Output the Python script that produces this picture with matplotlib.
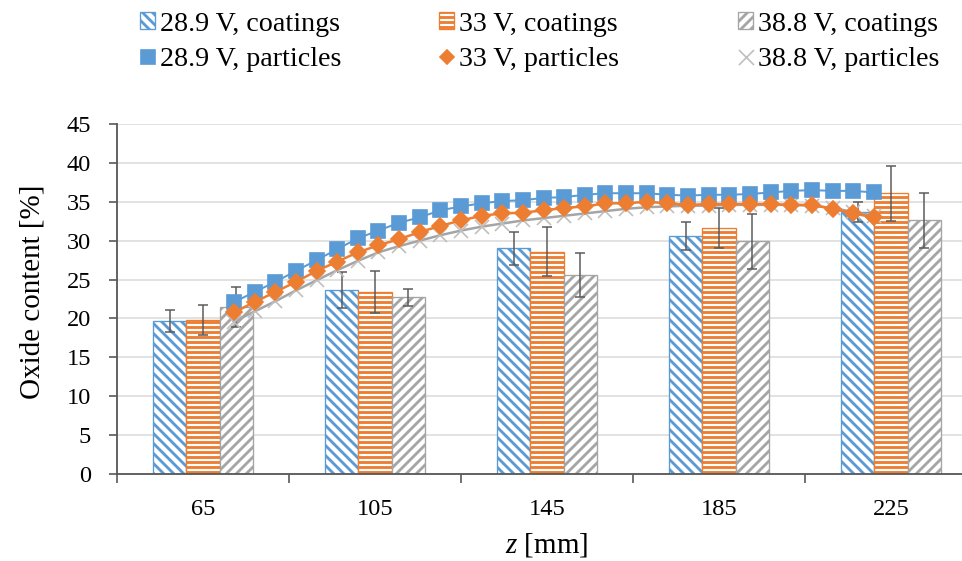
import matplotlib
matplotlib.use("Agg")
import matplotlib.pyplot as plt
from matplotlib.lines import Line2D
from matplotlib.patches import Patch

plt.rcParams['font.family'] = ['Liberation Serif', 'DejaVu Serif']
plt.rcParams['mathtext.fontset'] = 'custom'
plt.rcParams['mathtext.it'] = 'Liberation Serif:italic'
plt.rcParams['mathtext.rm'] = 'Liberation Serif'
plt.rcParams['hatch.linewidth'] = 1.7

# coatings (bars), one value per spraying distance
z_cat = [65, 105, 145, 185, 225]
z_labels = ['65', '105', '145', '185', '225']
coat_289 = [19.7, 23.7, 29.0, 30.6, 33.7]
coat_289_err = [1.4, 2.3, 2.15, 1.85, 1.3]
coat_33 = [19.8, 23.4, 28.6, 31.6, 36.1]
coat_33_err = [1.9, 2.65, 3.1, 2.55, 3.55]
coat_388 = [21.5, 22.7, 25.6, 29.9, 32.6]
coat_388_err = [2.6, 1.05, 2.8, 3.5, 3.55]

# in-flight particles (lines)
z_part = [72.2, 77.0, 81.8, 86.6, 91.4, 96.2, 101.0, 105.8, 110.6, 115.4,
          120.2, 125.0, 129.8, 134.6, 139.4, 144.2, 149.0, 153.8, 158.6, 163.4,
          168.2, 173.0, 177.8, 182.6, 187.4, 192.2, 197.0, 201.8, 206.6, 211.4,
          216.2, 221.0]
part_289 = [22.1, 23.4, 24.7, 26.1, 27.5, 28.9, 30.3, 31.3, 32.3, 33.0,
            33.9, 34.4, 34.8, 35.1, 35.2, 35.5, 35.6, 35.9, 36.1, 36.1,
            36.1, 35.9, 35.8, 35.9, 35.9, 36.0, 36.2, 36.4, 36.5, 36.4,
            36.4, 36.2]
part_33 = [20.8, 22.1, 23.4, 24.7, 26.1, 27.3, 28.5, 29.4, 30.2, 31.1,
           31.9, 32.6, 33.2, 33.5, 33.6, 33.9, 34.2, 34.4, 34.8, 34.8,
           35.0, 34.8, 34.6, 34.7, 34.7, 34.7, 34.7, 34.6, 34.6, 34.1,
           33.5, 33.0]
part_388 = [19.6, 20.9, 22.2, 23.6, 24.9, 26.2, 27.4, 28.5, 29.3, 30.0,
            30.7, 31.3, 31.8, 32.2, 32.6, 32.9, 33.2, 33.5, 33.8, 34.1,
            34.3, 34.4, 34.5, 34.5, 34.6, 34.6, 34.6, 34.6, 34.5, 34.2,
            33.7, 33.2]

BLUE, ORANGE, GRAY = '#5B9BD5', '#ED7D31', '#A5A5A5'
AXC = '#595959'

fig = plt.figure(figsize=(962/120, 561/120), dpi=120)
ax = fig.add_axes([117/962, 87/561, 860/962, 350/561])

bw = 7.75
bars = [(coat_289, coat_289_err, BLUE, '\\\\\\\\', -bw),
        (coat_33, coat_33_err, ORANGE, '----', 0.0),
        (coat_388, coat_388_err, GRAY, '////', bw)]
for vals, errs, col, hatch, off in bars:
    xs = [z + off for z in z_cat]
    ax.bar(xs, vals, width=bw, facecolor='white', edgecolor=col, hatch=hatch,
           linewidth=0.8, zorder=2)
    ax.errorbar(xs, vals, yerr=errs, fmt='none', ecolor=AXC, elinewidth=0.9,
                capsize=3, capthick=0.9, zorder=3)

ax.plot(z_part, part_388, color=GRAY, lw=1.5, marker='x', ms=8.6,
        mec='#BFBFBF', mew=1.0, zorder=4)
ax.plot(z_part, part_289, color=BLUE, lw=1.2, marker='s', ms=8.9,
        mec=BLUE, mfc=BLUE, zorder=5)
ax.plot(z_part, part_33, color=ORANGE, lw=1.5, marker='D', ms=6.6,
        mec=ORANGE, mfc=ORANGE, zorder=6)

ax.set_xlim(45, 245)
ax.set_ylim(0, 45)
ax.set_yticks(range(0, 46, 5))
ax.set_xticks([45, 85, 125, 165, 205, 245])
ax.set_xticklabels([])
ax.set_xticks(z_cat, minor=True)
ax.set_xticklabels(z_labels, minor=True)
ax.tick_params(axis='x', which='major', direction='out', length=5.4, width=1.0, color=AXC)
ax.tick_params(axis='x', which='minor', length=0, pad=15, labelsize=14.6)
ax.tick_params(axis='y', direction='out', length=4.8, width=1.0, color=AXC,
               pad=10.8, labelsize=14.6)
ax.grid(axis='y', color='#D9D9D9', lw=0.9)
ax.set_axisbelow(True)
for s in ('top', 'right'):
    ax.spines[s].set_visible(False)
for s in ('left', 'bottom'):
    ax.spines[s].set_color(AXC)
    ax.spines[s].set_linewidth(1.1)

fig.text(33/962, 1 - 292/561, 'Oxide content [%]', rotation=90,
         ha='center', va='center', fontsize=17.4)
fig.text(547/962, 1 - 545/561, '$z$ [mm]', ha='center', va='center', fontsize=17.4)

# legend: three columns, coatings on top, particles below
cols = [
    (140, Patch(facecolor='white', edgecolor=BLUE, hatch='\\\\\\\\', lw=0.8), '28.9 V, coatings',
     Line2D([], [], ls='none', marker='s', ms=8.4, color=BLUE), '28.9 V, particles'),
    (439, Patch(facecolor='white', edgecolor=ORANGE, hatch='----', lw=0.8), '33 V, coatings',
     Line2D([], [], ls='none', marker='D', ms=6.2, color=ORANGE), '33 V, particles'),
    (738, Patch(facecolor='white', edgecolor=GRAY, hatch='////', lw=0.8), '38.8 V, coatings',
     Line2D([], [], ls='none', marker='x', ms=9, mew=1.0, color='#BFBFBF'), '38.8 V, particles'),
]
for x0, h1, l1, h2, l2 in cols:
    fig.legend([h1, h2], [l1, l2], loc='center left',
               bbox_to_anchor=(x0/962, 1 - 42/561), frameon=False,
               borderpad=0, borderaxespad=0, handlelength=0.55, handleheight=0.55,
               handletextpad=0.15, labelspacing=0.38, fontsize=16.8)

fig.savefig('out.png', dpi=120)
